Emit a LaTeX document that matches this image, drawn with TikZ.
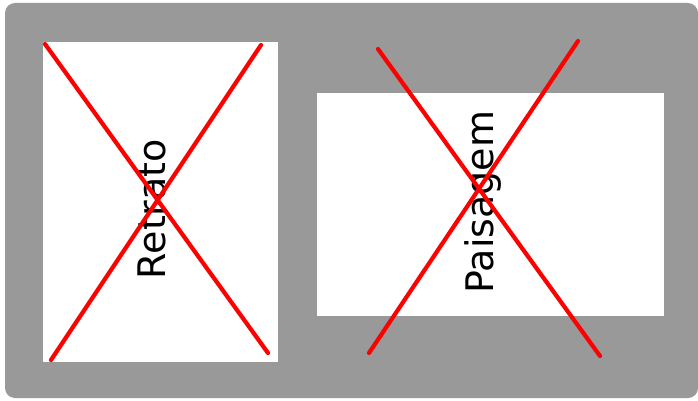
\documentclass[tikz,border=0pt]{standalone}
\usepackage{fontspec}
\setmainfont{DejaVu Sans}
\definecolor{framegray}{HTML}{999999}
\tikzset{
  sheet/.style={fill=white, draw=none, inner sep=0pt, anchor=north west},
  cross/.style={red, line width=4.2pt, line cap=round},
  label/.style={font=\fontsize{38}{38}\selectfont, rotate=90, inner sep=0pt}
}
\begin{document}
\begin{tikzpicture}[x=1pt, y=-1pt, line join=round, line cap=round]
	\useasboundingbox (0,0) rectangle (698,401);
	\fill[framegray, rounded corners=10pt] (5,3) rectangle (698,398);
	\node[sheet, minimum width=235pt, minimum height=320pt] (portrait) at (43,42) {};
	\node[sheet, minimum width=347pt, minimum height=223pt] (landscape) at (317,93) {};
	\node[label] (retrato) at (152,209) {Retrato};
	\node[label] (paisagem) at (483,202) {Paisagem};
	\coordinate (p1) at (45,44);
	\coordinate (p2) at (268,353);
	\coordinate (p3) at (261,45);
	\coordinate (p4) at (51,360);
	\coordinate (l1) at (378,49);
	\coordinate (l2) at (600,356);
	\coordinate (l3) at (578,41);
	\coordinate (l4) at (369,353);
	\draw[cross] (p1)--(p2) (p3)--(p4);
	\draw[cross] (l1)--(l2) (l3)--(l4);
\end{tikzpicture}
\end{document}
